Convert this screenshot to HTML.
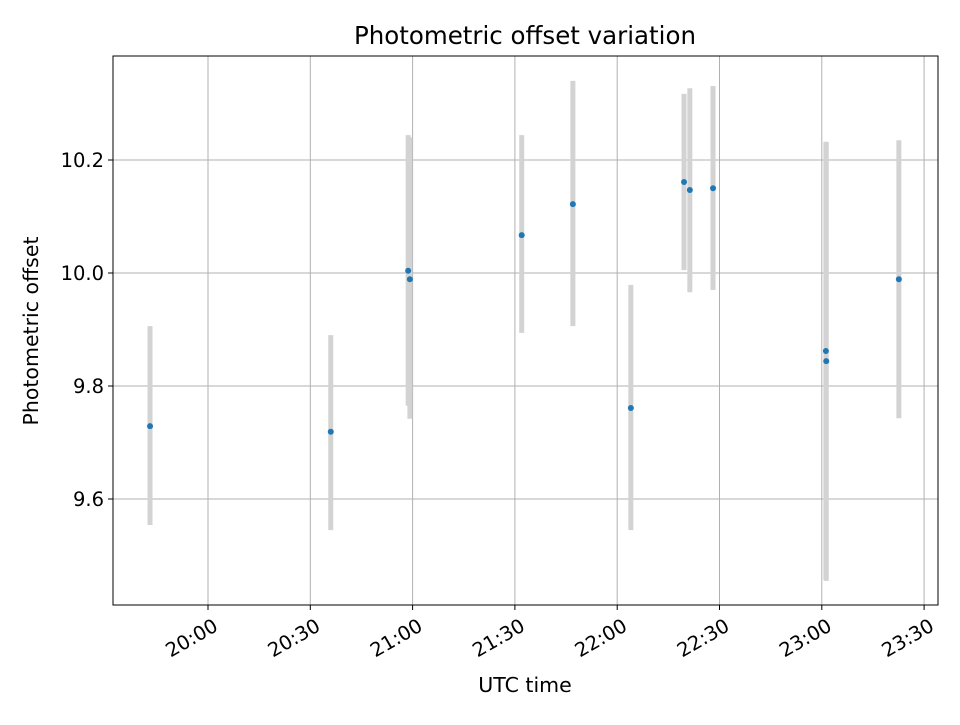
<!DOCTYPE html>
<html><head><meta charset="utf-8"><style>
body{margin:0;background:#fff;}
svg text{font-family:"DejaVu Sans","Liberation Sans",sans-serif;}
</style></head><body>
<svg id="chart" width="960" height="720" xmlns="http://www.w3.org/2000/svg">
<rect width="960" height="720" fill="#fff"/>
<g id="grid"></g>
<g id="bars"></g>
<g id="points"></g>
<rect x="113" y="56" width="825" height="549" fill="none" stroke="#000" stroke-width="1"/>
<g id="axes"></g>
<text x="525" y="44" style="font-size:24.5px" text-anchor="middle">Photometric offset variation</text>
<text x="525" y="692" style="font-size:20.5px" text-anchor="middle">UTC time</text>
<text transform="translate(38,331) rotate(-90)" style="font-size:20.5px" text-anchor="middle">Photometric offset</text>
</svg>
<script>
const times = ["19:43","20:36","20:58.7","20:59.2","21:32","21:47","22:04","22:19.6","22:21.3","22:28.1","23:01.2","23:01.3","23:22.6"];
const values = [9.729,9.719,10.004,9.989,10.067,10.122,9.761,10.161,10.147,10.150,9.862,9.844,9.989];
const upper = [9.906,9.890,10.244,10.240,10.244,10.340,9.979,10.317,10.327,10.331,10.232,10.232,10.235];
const lower = [9.554,9.545,9.765,9.742,9.894,9.906,9.545,10.005,9.966,9.970,9.457,9.455,9.743];
const xTickLabels = ["20:00","20:30","21:00","21:30","22:00","22:30","23:00","23:30"];
const yTickLabels = ["9.6","9.8","10.0","10.2"];

const NS="http://www.w3.org/2000/svg";
function toMin(s){const p=s.split(":");return (+p[0])*60+(+p[1]);}
function xScale(s){return 208+(toMin(s)-1200)*(102.3/30);}
function yScale(v){return 273-(v-10)*565;}
function mk(tag,attrs,parent){const e=document.createElementNS(NS,tag);for(const k in attrs)e.setAttribute(k,attrs[k]);parent.appendChild(e);return e;}
const grid=document.getElementById('grid'),axes=document.getElementById('axes'),bars=document.getElementById('bars'),pts=document.getElementById('points');

xTickLabels.forEach(t=>{
  const x=xScale(t);
  const g=mk('line',{x1:x,x2:x,y1:56,y2:605,stroke:'#b0b0b0','stroke-width':1},grid);
  
  
  const tk=mk('line',{x1:x,x2:x,y1:605,y2:610,stroke:'#000'},axes);
  
  
  const tx=mk('text',{x:x+4,y:617,style:'font-size:19.5px','text-anchor':'end',transform:`rotate(-30 ${x+4} 617)`,dy:'0.75em'},axes);
  tx.textContent=t;
  
  
});
yTickLabels.forEach(t=>{
  const y=yScale(+t);
  const g=mk('line',{x1:113,x2:938,y1:y,y2:y,stroke:'#b0b0b0','stroke-width':1},grid);
  
  
  const tk=mk('line',{x1:108,x2:113,y1:y,y2:y,stroke:'#000'},axes);
  
  
  const tx=mk('text',{x:104,y:y+7,style:'font-size:19.5px','text-anchor':'end'},axes);
  tx.textContent=t;
  
  
});
times.forEach((t,i)=>{
  const x=xScale(t);
  const b=mk('line',{x1:x,x2:x,y1:yScale(upper[i]),y2:yScale(lower[i]),stroke:'#d3d3d3','stroke-width':5},bars);
  
  
  const c=mk('circle',{cx:x,cy:yScale(values[i]),r:3,fill:'#1f77b4'},pts);
  
  
});
</script>
</body></html>
